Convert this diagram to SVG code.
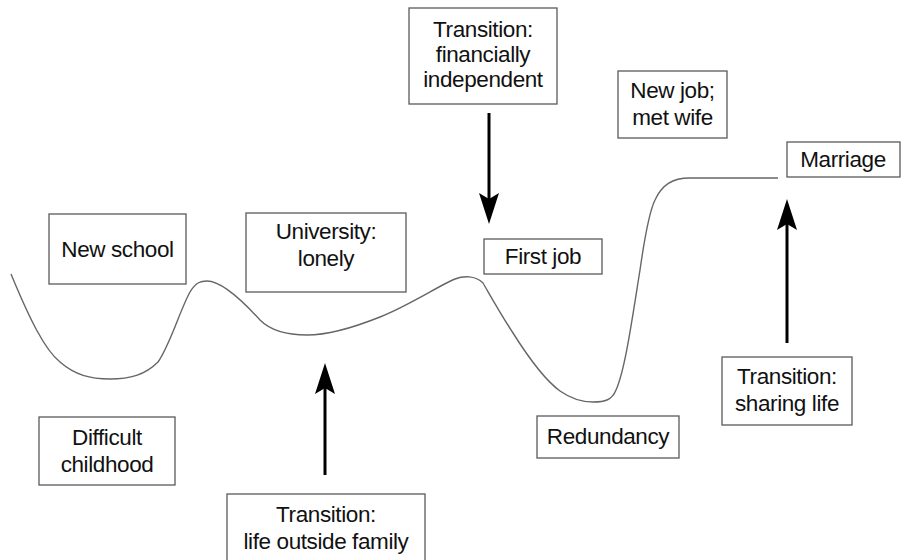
<svg xmlns="http://www.w3.org/2000/svg" width="902" height="560" viewBox="0 0 902 560">
<style>
.box{fill:#fff;stroke:#5a5a5a;stroke-width:1.3}
.t{font-family:"Liberation Sans",Arial,sans-serif;font-size:22.5px;letter-spacing:-0.4px;fill:#111;text-anchor:middle}
.curve{fill:none;stroke:#666;stroke-width:1.4}
.arr{stroke:#000;stroke-width:3;fill:none}
</style>
<defs>
<marker id="ah" markerUnits="userSpaceOnUse" viewBox="-7 -11 33 22" markerWidth="33" markerHeight="22" refX="0" refY="0" orient="auto">
<path d="M25,0 L-6,-10 L0,0 L-6,10 Z" fill="#000"/>
</marker>
</defs>
<rect width="902" height="560" fill="#fff"/>
<g id="curve">
<path class="curve" d="M11,274 C30,320 45,350 60,362 C75,375 90,379 110,379 C130,379 145,375 158,362 C170,345 180,310 190,292 C196,282 201,281 207,281 C220,281 240,298 260,320 C270,330 285,335 307,335 C330,335 355,327 380,317 C410,305 440,285 455,279 C463,276 475,275 483,283 C490,295 500,313 513,333 C530,360 545,380 560,391 C570,398 580,402 593,402 C605,402 612,400 616,390 C625,370 632,320 640,270 C645,235 650,210 655,200 C662,185 672,178 690,178 L778,178"/>
</g>
<g id="connectors">
<line class="arr" x1="325" y1="475" x2="325" y2="388" marker-end="url(#ah)"/>
<line class="arr" x1="489" y1="113" x2="489" y2="199" marker-end="url(#ah)"/>
<line class="arr" x1="787" y1="343" x2="787" y2="224" marker-end="url(#ah)"/>
</g>
<g id="new-school"><rect class="box" x="49" y="214" width="137" height="70"/><text class="t" x="117.5" y="257">New school</text></g>
<g id="university"><rect class="box" x="246" y="213" width="160" height="79"/><text class="t" x="326" y="239">University:</text><text class="t" x="326" y="266">lonely</text></g>
<g id="transition-financial"><rect class="box" x="409" y="8" width="148" height="96"/><text class="t" x="483" y="37">Transition:</text><text class="t" x="483" y="62">financially</text><text class="t" x="483" y="87">independent</text></g>
<g id="first-job"><rect class="box" x="484" y="239" width="118" height="35"/><text class="t" x="543" y="264">First job</text></g>
<g id="new-job"><rect class="box" x="618" y="71" width="109" height="67"/><text class="t" x="672.5" y="98">New job;</text><text class="t" x="672.5" y="125">met wife</text></g>
<g id="marriage"><rect class="box" x="787" y="142" width="113" height="35"/><text class="t" x="843" y="167">Marriage</text></g>
<g id="difficult-childhood"><rect class="box" x="39" y="417" width="136" height="68"/><text class="t" x="107" y="445">Difficult</text><text class="t" x="107" y="472">childhood</text></g>
<g id="transition-life"><rect class="box" x="227" y="494" width="198" height="68"/><text class="t" x="326" y="522">Transition:</text><text class="t" x="326" y="549">life outside family</text></g>
<g id="redundancy"><rect class="box" x="537" y="416" width="142" height="42"/><text class="t" x="608" y="444">Redundancy</text></g>
<g id="transition-sharing"><rect class="box" x="722" y="357" width="130" height="68"/><text class="t" x="787" y="384">Transition:</text><text class="t" x="787" y="411">sharing life</text></g>
</svg>
